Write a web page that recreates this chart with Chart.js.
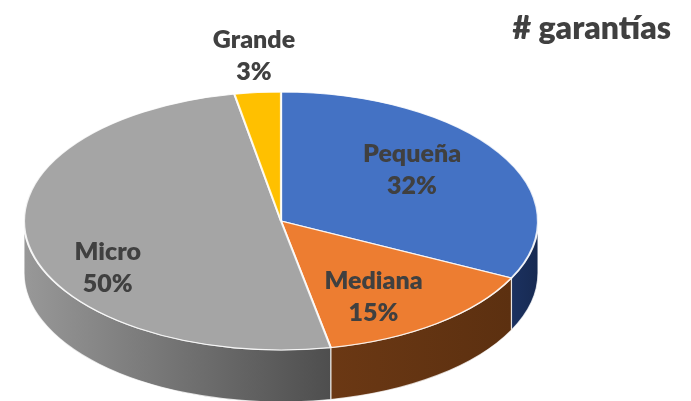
<!DOCTYPE html>
<html>
<head>
<meta charset="utf-8">
<script src="https://cdn.jsdelivr.net/npm/chart.js@4/dist/chart.umd.min.js"></script>
<style>
  html, body { margin: 0; padding: 0; background: #fff; }
  canvas { display: block; }
</style>
</head>
<body>
<canvas id="chart" width="691" height="401"></canvas>
<script>
const categories = ['Pequeña', 'Mediana', 'Micro', 'Grande'];
const shares = [32.3, 14.6, 50.2, 2.9];
const topColors = ['#4472C4', '#ED7D31', '#A5A5A5', '#FFC000'];
const wallLeft = ['#1B3160', '#6B3814', '#989898', '#997300'];
const wallRight = ['#172A52', '#5C3010', '#4E4E4E', '#997300'];

// tilted disc on the page
const disc = { x: 281, y: 221, rx: 257, ry: 129, depth: 52 };
// centre of each label's first line, in fractions of the disc radii
const labelSpots = [[0.51, -0.52], [0.36, 0.465], [-0.674, 0.24], [-0.105, -1.40]];
const labelGap = 32;

const tiltedPie = {
    id: 'tiltedPie',
    beforeDatasetsDraw(chart) {
        const ctx = chart.ctx;
        const arcs = chart.getDatasetMeta(0).data;

        // side wall: only the front half of the rim is visible
        arcs.forEach((arc, i) => {
            const from = Math.max(arc.startAngle, 0);
            const to = Math.min(arc.endAngle, Math.PI);
            if (to <= from) return;
            const x0 = disc.x + disc.rx * Math.cos(to);
            const x1 = disc.x + disc.rx * Math.cos(from);
            const grad = ctx.createLinearGradient(x0, 0, x1, 0);
            grad.addColorStop(0, wallLeft[i]);
            grad.addColorStop(1, wallRight[i]);
            ctx.beginPath();
            ctx.ellipse(disc.x, disc.y, disc.rx, disc.ry, 0, from, to);
            ctx.ellipse(disc.x, disc.y + disc.depth, disc.rx, disc.ry, 0, to, from, true);
            ctx.closePath();
            ctx.fillStyle = grad;
            ctx.fill();
            ctx.strokeStyle = 'rgba(255,255,255,0.75)';
            ctx.lineWidth = 1.2;
            ctx.stroke();
        });

        // squash the round pie into the disc
        const first = arcs[0];
        ctx.save();
        ctx.translate(disc.x, disc.y);
        ctx.scale(disc.rx / first.outerRadius, disc.ry / first.outerRadius);
        ctx.translate(-first.x, -first.y);
    },
    afterDatasetsDraw(chart) {
        const ctx = chart.ctx;
        ctx.restore();
        ctx.fillStyle = '#404040';
        ctx.font = '800 25px Lato';
        ctx.textAlign = 'center';
        ctx.textBaseline = 'middle';
        categories.forEach((name, i) => {
            const x = disc.x + labelSpots[i][0] * disc.rx;
            const y = disc.y + labelSpots[i][1] * disc.ry;
            ctx.fillText(name, x, y);
            ctx.fillText(Math.round(shares[i]) + '%', x, y + labelGap);
        });
    }
};

new Chart(document.getElementById('chart'), {
    type: 'pie',
    data: {
        labels: categories,
        datasets: [{
            data: shares,
            backgroundColor: topColors,
            borderColor: 'rgba(255,255,255,0.85)',
            borderWidth: 1.5
        }]
    },
    options: {
        responsive: false,
        animation: false,
        layout: { padding: { right: 20 } },
        plugins: {
            legend: { display: false },
            tooltip: { enabled: false },
            title: {
                display: true,
                text: '# garantías',
                align: 'end',
                color: '#404040',
                font: { family: 'Lato', size: 32, weight: 800 },
                padding: { top: 9, bottom: 0 }
            }
        }
    },
    plugins: [tiltedPie]
});
</script>
</body>
</html>
